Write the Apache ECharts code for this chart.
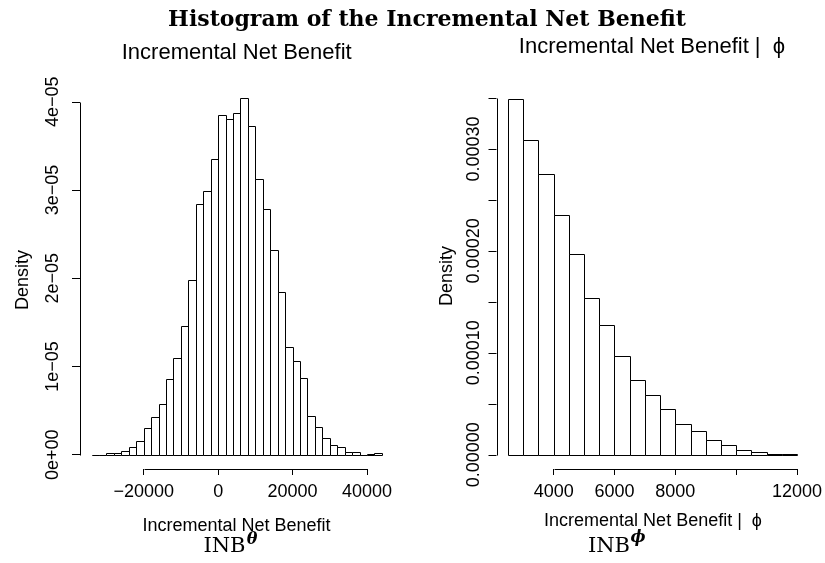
<!DOCTYPE html>
<html>
<head>
<meta charset="utf-8">
<script src="https://cdn.jsdelivr.net/npm/echarts@6/dist/echarts.min.js"></script>
<style>
html,body{margin:0;padding:0;background:#fff;}
#chart{width:825px;height:563px;}
</style>
</head>
<body>
<div id="chart"></div>
<script>
// ---- Left histogram: Incremental Net Benefit (bin breaks & densities) ----
const leftBreaks = [-34000,-32000,-30000,-28000,-26000,-24000,-22000,-20000,-18000,-16000,
  -14000,-12000,-10000,-8000,-6000,-4000,-2000,0,2000,4000,6000,8000,10000,12000,14000,
  16000,18000,20000,22000,24000,26000,28000,30000,32000,34000,36000,38000,40000,42000,44000];
const leftDensity = [0.00003e-5,0,0.02e-5,0.015e-5,0.046e-5,0.088e-5,0.16e-5,0.30e-5,0.43e-5,0.58e-5,
  0.86e-5,1.10e-5,1.46e-5,1.98e-5,2.84e-5,2.99e-5,3.35e-5,3.85e-5,3.81e-5,3.87e-5,4.04e-5,
  3.73e-5,3.13e-5,2.78e-5,2.32e-5,1.84e-5,1.22e-5,1.06e-5,0.87e-5,0.44e-5,0.31e-5,
  0.19e-5,0.11e-5,0.087e-5,0.032e-5,0.032e-5,0,0.004e-5,0.02e-5];
const leftXTicks = [-20000,0,20000,40000];
const leftXLabels = ['\u221220000','0','20000','40000'];
const leftYTicks = [0,1e-5,2e-5,3e-5,4e-5];
const leftYLabels = ['0e+00','1e\u221205','2e\u221205','3e\u221205','4e\u221205'];

// ---- Right histogram: Incremental Net Benefit | phi ----
const rightBreaks = [2500,3000,3500,4000,4500,5000,5500,6000,6500,7000,7500,8000,8500,
  9000,9500,10000,10500,11000,11500,12000];
const rightDensity = [0.0003492,0.0003085,0.0002757,0.0002348,0.0001970,0.0001534,0.0001275,
  0.0000967,0.0000738,0.0000590,0.0000452,0.0000302,0.0000230,0.0000144,0.0000092,
  0.0000043,0.0000026,0.0000008,0.0000005];
const rightXTicks = [4000,6000,8000,10000,12000];
const rightXLabels = ['4000','6000','8000','','12000'];
const rightYTicks = [0,0.00005,0.0001,0.00015,0.0002,0.00025,0.0003,0.00035];
const rightYLabels = ['0.00000','','0.00010','','0.00020','','0.00030',''];

// ---- Texts ----
const mainTitle = 'Histogram of the Incremental Net Benefit';
const leftTitle = 'Incremental Net Benefit';
const rightTitle = 'Incremental Net Benefit |  \u03D5';
const leftXName = 'Incremental Net Benefit';
const rightXName = 'Incremental Net Benefit |  \u03D5';
const yName = 'Density';
const leftCaption = ['INB', '\u03B8'];
const rightCaption = ['INB', '\u03D5'];

// R-style 4% range expansion
function expand(lo, hi){ const d = (hi - lo) * 0.04; return [lo - d, hi + d]; }
const lx = expand(leftBreaks[0], leftBreaks[leftBreaks.length-1]);
const ly = expand(0, Math.max.apply(null, leftDensity));
const rx = expand(rightBreaks[0], rightBreaks[rightBreaks.length-1]);
const ry = expand(0, Math.max.apply(null, rightDensity));

function binData(breaks, dens){
  return dens.map((d,i)=>[breaks[i], breaks[i+1], d]);
}
function labelFor(ticks, labels){
  return function(v){
    for (let i=0;i<ticks.length;i++){ if (Math.abs(ticks[i]-v) < 1e-12 + Math.abs(ticks[i])*1e-9) return labels[i]; }
    return '';
  };
}
function renderBar(params, api){
  const p0 = api.coord([api.value(0), 0]);
  const p1 = api.coord([api.value(1), api.value(2)]);
  const x0 = Math.round(p0[0]) + 0.5, x1 = Math.round(p1[0]) + 0.5;
  const yb = Math.round(p0[1]) + 0.5, yt = Math.round(p1[1]) + 0.5;
  return {type:'rect', shape:{x:x0, y:yt, width:x1-x0, height:yb-yt},
    style:{fill:'#fff', stroke:'#000', lineWidth:1}};
}
function axisLines(xt, yt, xr, yr){
  return function(params, api){
    const a = api.coord([xt[0], yr[0]]), b = api.coord([xt[xt.length-1], yr[0]]);
    const c = api.coord([xr[0], yt[0]]), d = api.coord([xr[0], yt[yt.length-1]]);
    const r = v => Math.round(v) + 0.5;
    return {type:'group', children:[
      {type:'line', shape:{x1:r(a[0]), y1:r(a[1]), x2:r(b[0]), y2:r(b[1])}, style:{stroke:'#000', lineWidth:1}},
      {type:'line', shape:{x1:r(c[0]), y1:r(c[1]), x2:r(d[0]), y2:r(d[1])}, style:{stroke:'#000', lineWidth:1}}
    ]};
  };
}

const sans = 'Liberation Sans, Arial, Helvetica, sans-serif';
const serif = 'DejaVu Serif, serif';
function xAxisCfg(idx, range, ticks, labels){
  return {type:'value', gridIndex:idx, min:range[0], max:range[1],
    axisLine:{show:false, onZero:false}, splitLine:{show:false},
    axisTick:{show:true, customValues:ticks, length:6, lineStyle:{color:'#000'}},
    axisLabel:{show:true, customValues:ticks, formatter:labelFor(ticks, labels),
      color:'#000', fontFamily:sans, fontSize:18, margin:14}};
}
function yAxisCfg(idx, range, ticks, labels, margin){
  return {type:'value', gridIndex:idx, min:range[0], max:range[1],
    axisLine:{show:false, onZero:false}, splitLine:{show:false},
    axisTick:{show:true, customValues:ticks, length:8, lineStyle:{color:'#000'}},
    axisLabel:{show:true, customValues:ticks, formatter:labelFor(ticks, labels), rotate:90,
      color:'#000', fontFamily:sans, fontSize:18, margin:margin, hideOverlap:false}};
}
function txt(x, y, text, size, font, weight, rot){
  return {type:'text', x:x, y:y, rotation:rot||0,
    style:{text:text, fill:'#000', font:(weight||'normal')+' '+size+'px '+font,
      textAlign:'center', textVerticalAlign:'middle'}};
}
function caption(cxBase, cyBase, cxSup, cySup, parts){
  return {type:'group', children:[
    {type:'text', x:cxBase, y:cyBase, style:{text:parts[0], fill:'#000', font:'normal 21px '+serif,
      textAlign:'center', textVerticalAlign:'middle'}},
    {type:'text', x:cxSup, y:cySup, style:{text:parts[1], fill:'#000', font:'italic bold 16px '+serif,
      textAlign:'center', textVerticalAlign:'middle'}}
  ]};
}

const chart = echarts.init(document.getElementById('chart'), null, {renderer:'canvas'});
chart.setOption({
  animation:false,
  backgroundColor:'#fff',
  grid:[
    {left:80, top:84, width:313.5, height:385},
    {left:496.5, top:84.5, width:313.5, height:384.5}
  ],
  xAxis:[
    xAxisCfg(0, lx, leftXTicks, leftXLabels),
    xAxisCfg(1, rx, rightXTicks, rightXLabels)
  ],
  yAxis:[
    yAxisCfg(0, ly, leftYTicks, leftYLabels, 18),
    yAxisCfg(1, ry, rightYTicks, rightYLabels, 13)
  ],
  series:[
    {type:'custom', xAxisIndex:0, yAxisIndex:0, renderItem:renderBar,
      data:binData(leftBreaks, leftDensity), encode:{x:[0,1], y:2}, clip:false},
    {type:'custom', xAxisIndex:1, yAxisIndex:1, renderItem:renderBar,
      data:binData(rightBreaks, rightDensity), encode:{x:[0,1], y:2}, clip:false},
    {type:'custom', xAxisIndex:0, yAxisIndex:0, renderItem:axisLines(leftXTicks, leftYTicks, lx, ly),
      data:[[0]], clip:false, silent:true},
    {type:'custom', xAxisIndex:1, yAxisIndex:1, renderItem:axisLines(rightXTicks, rightYTicks, rx, ry),
      data:[[0]], clip:false, silent:true}
  ],
  graphic:[
    txt(427, 20, mainTitle, 22, serif, 'bold'),
    txt(236.7, 53, leftTitle, 22, sans),
    txt(652, 47, rightTitle, 22, sans),
    txt(236.5, 526, leftXName, 18, sans),
    txt(653, 521, rightXName, 18, sans),
    txt(23.3, 280, yName, 18, sans, 'normal', Math.PI/2),
    txt(447.5, 276, yName, 18, sans, 'normal', Math.PI/2),
    caption(224.5, 547, 252, 540, leftCaption),
    caption(609, 547, 638, 538, rightCaption)
  ]
});
</script>
</body>
</html>
